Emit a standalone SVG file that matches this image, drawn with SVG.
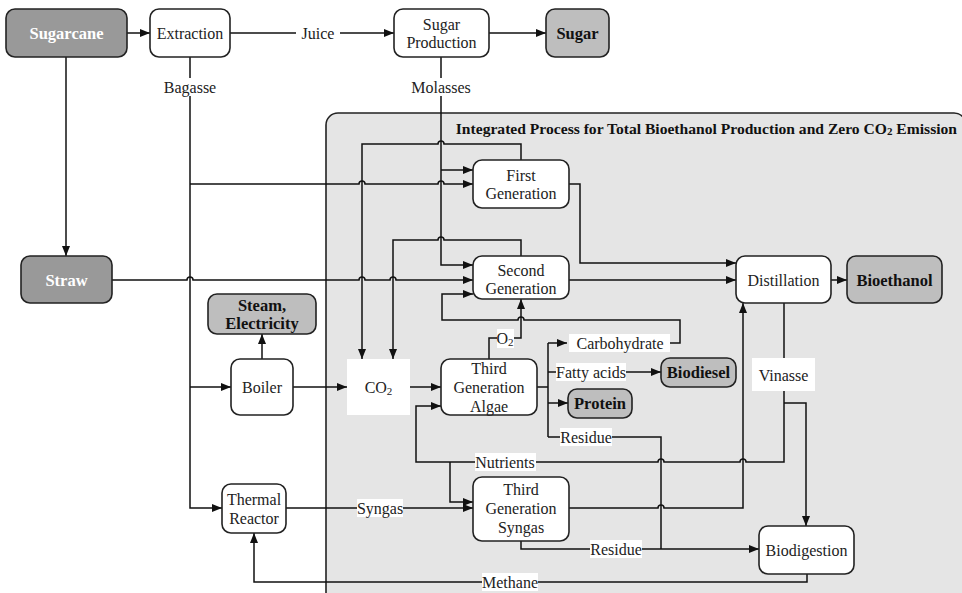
<svg xmlns="http://www.w3.org/2000/svg" width="962" height="593" viewBox="0 0 962 593">
<defs>
<marker id="ah" markerUnits="userSpaceOnUse" markerWidth="11" markerHeight="9" refX="10" refY="4" orient="auto">
<path d="M0,0 L10,4 L0,8 z" fill="#111"/>
</marker>
<style>
.n{fill:#fff;stroke:#222;stroke-width:1.6}
.d{fill:#999;stroke:#222;stroke-width:1.6}
.l{fill:#bebebe;stroke:#222;stroke-width:1.6}
.t{font-family:"Liberation Serif","Times New Roman",serif;font-size:16px;text-anchor:middle;dominant-baseline:central;fill:#222}
.tb{font-family:"Liberation Serif","Times New Roman",serif;font-size:16.5px;font-weight:bold;text-anchor:middle;dominant-baseline:central;fill:#111}
.tw{font-family:"Liberation Serif","Times New Roman",serif;font-size:16.5px;font-weight:bold;text-anchor:middle;dominant-baseline:central;fill:#fff}
.c{fill:none;stroke:#111;stroke-width:1.5}
.a{marker-end:url(#ah)}
.bg{fill:#fff}
</style>
</defs>

<g id="integrated-process">
<rect x="326" y="113" width="640" height="500" rx="12" fill="#e5e5e5" stroke="#222" stroke-width="1.6"/>
<text x="957" y="128" font-family="'Liberation Serif','Times New Roman',serif" font-size="15.6" font-weight="bold" text-anchor="end" dominant-baseline="central" fill="#111">Integrated Process for Total Bioethanol Production and Zero CO<tspan font-size="11" dy="3">2</tspan><tspan dy="-3"> Emission</tspan></text>
</g>

<g id="connectors">
<path class="c a" d="M127,33 H150"/>
<path class="c a" d="M230,33 H394"/>
<path class="c a" d="M489,33 H546"/>
<path class="c a" d="M66,57 V256"/>
<path class="c a" d="M190,57 V508 H222"/>
<path class="c a" d="M190,184 H359 a3,3 0 0 1 6,0 H438 a3,3 0 0 1 6,0 H473"/>
<path class="c a" d="M190,387 H231"/>
<path class="c a" d="M441,57 V265 H473"/>
<path class="c a" d="M441,170 H473"/>
<path class="c a" d="M521,160 V144 H444 a3,3 0 0 0 -6,0 H362 V359"/>
<path class="c a" d="M521,256 V240 H444 a3,3 0 0 0 -6,0 H393 V359"/>
<path class="c a" d="M112,280 H187 a3,3 0 0 1 6,0 H359 a3,3 0 0 1 6,0 H390 a3,3 0 0 1 6,0 H473"/>
<path class="c a" d="M670,343 H680 V320 H524 a3,3 0 0 0 -6,0 H442 V294 H473"/>
<path class="c a" d="M489,359 V338 H521 V299"/>
<path class="c" d="M537,387 H548 M548,343 V437"/>
<path class="c a" d="M548,343 H567"/>
<path class="c a" d="M548,372 H661"/>
<path class="c a" d="M548,403 H568"/>
<path class="c" d="M548,437 H661 V549"/>
<path class="c a" d="M784,391 V462 H746 a3,3 0 0 0 -6,0 H664 a3,3 0 0 0 -6,0 H416 V406 H441"/>
<path class="c a" d="M450,462 V502 H473"/>
<path class="c" d="M784,303 V358"/>
<path class="c a" d="M784,403 H806 V526"/>
<path class="c a" d="M569,508 H658 a3,3 0 0 1 6,0 H743 V303"/>
<path class="c a" d="M286,508 H473"/>
<path class="c a" d="M521,541 V549 H759"/>
<path class="c a" d="M807,574 V582 H254 V533"/>
<path class="c a" d="M569,184 H580 V263 H736"/>
<path class="c a" d="M569,280 H736"/>
<path class="c a" d="M831,280 H847"/>
<path class="c a" d="M262,359 V334"/>
<path class="c a" d="M293,387 H347"/>
<path class="c a" d="M410,387 H441"/>
</g>

<g id="labels">
<rect class="bg" x="296" y="24" width="44" height="18"/>
<text class="t" x="318" y="33">Juice</text>
<rect class="bg" x="163" y="78" width="55" height="18"/>
<text class="t" x="190" y="87">Bagasse</text>
<rect class="bg" x="410" y="78" width="62" height="18"/>
<text class="t" x="441" y="87">Molasses</text>
<rect class="bg" x="497" y="329" width="17" height="19"/>
<text class="t" x="505" y="338">O<tspan font-size="11" dy="4">2</tspan></text>
<rect class="bg" x="569" y="334" width="101" height="18"/>
<text class="t" x="620" y="343">Carbohydrate</text>
<rect class="bg" x="556" y="363" width="70" height="18"/>
<text class="t" x="591" y="372">Fatty acids</text>
<rect class="bg" x="560" y="428" width="52" height="18"/>
<text class="t" x="586" y="437">Residue</text>
<rect class="bg" x="475" y="453" width="61" height="18"/>
<text class="t" x="505" y="462">Nutrients</text>
<rect class="bg" x="357" y="499" width="46" height="18"/>
<text class="t" x="380" y="508">Syngas</text>
<rect class="bg" x="590" y="540" width="52" height="18"/>
<text class="t" x="616" y="549">Residue</text>
<rect class="bg" x="482" y="573" width="56" height="18"/>
<text class="t" x="510" y="582">Methane</text>
<rect class="bg" x="752" y="358" width="63" height="33"/>
<text class="t" x="783.5" y="375">Vinasse</text>
</g>

<g id="sugarcane"><rect class="d" x="6" y="9" width="121" height="48" rx="9"/><text class="tw" x="66.5" y="33">Sugarcane</text></g>
<g id="extraction"><rect class="n" x="150" y="9" width="80" height="48" rx="9"/><text class="t" x="190" y="33">Extraction</text></g>
<g id="sugar-production"><rect class="n" x="394" y="9" width="95" height="48" rx="9"/><text class="t" x="441.5" y="24">Sugar</text><text class="t" x="441.5" y="42">Production</text></g>
<g id="sugar"><rect class="l" x="546" y="9" width="63" height="48" rx="9"/><text class="tb" x="577.5" y="33">Sugar</text></g>
<g id="straw"><rect class="d" x="21" y="256" width="91" height="47" rx="9"/><text class="tw" x="66.5" y="280">Straw</text></g>
<g id="first-generation"><rect class="n" x="473" y="160" width="96" height="48" rx="9"/><text class="t" x="521" y="175">First</text><text class="t" x="521" y="193">Generation</text></g>
<g id="second-generation"><rect class="n" x="473" y="256" width="96" height="43" rx="9"/><text class="t" x="521" y="270">Second</text><text class="t" x="521" y="288">Generation</text></g>
<g id="distillation"><rect class="n" x="736" y="256" width="95" height="47" rx="9"/><text class="t" x="783.5" y="280">Distillation</text></g>
<g id="bioethanol"><rect class="l" x="847" y="256" width="95" height="47" rx="9"/><text class="tb" x="894.5" y="280">Bioethanol</text></g>
<g id="steam-electricity"><rect class="l" x="208" y="294" width="108" height="40" rx="9"/><text class="tb" x="262" y="305">Steam,</text><text class="tb" x="262" y="323">Electricity</text></g>
<g id="boiler"><rect class="n" x="231" y="359" width="62" height="56" rx="9"/><text class="t" x="262" y="387">Boiler</text></g>
<g id="co2"><rect x="347" y="359" width="63" height="56" fill="#fff"/><text class="t" x="378.5" y="387">CO<tspan font-size="11" dy="4">2</tspan></text></g>
<g id="third-generation-algae"><rect class="n" x="441" y="359" width="96" height="56" rx="9"/><text class="t" x="489" y="368">Third</text><text class="t" x="489" y="387">Generation</text><text class="t" x="489" y="406">Algae</text></g>
<g id="biodiesel"><rect class="l" x="661" y="358" width="75" height="29" rx="9"/><text class="tb" x="698.5" y="372.5">Biodiesel</text></g>
<g id="protein"><rect class="l" x="568" y="389" width="64" height="29" rx="9"/><text class="tb" x="600" y="403.5">Protein</text></g>
<g id="third-generation-syngas"><rect class="n" x="473" y="477" width="96" height="64" rx="9"/><text class="t" x="521" y="489">Third</text><text class="t" x="521" y="508">Generation</text><text class="t" x="521" y="527">Syngas</text></g>
<g id="thermal-reactor"><rect class="n" x="222" y="484" width="64" height="49" rx="9"/><text class="t" x="254" y="499">Thermal</text><text class="t" x="254" y="518">Reactor</text></g>
<g id="biodigestion"><rect class="n" x="759" y="526" width="95" height="48" rx="9"/><text class="t" x="806.5" y="550">Biodigestion</text></g>
</svg>
